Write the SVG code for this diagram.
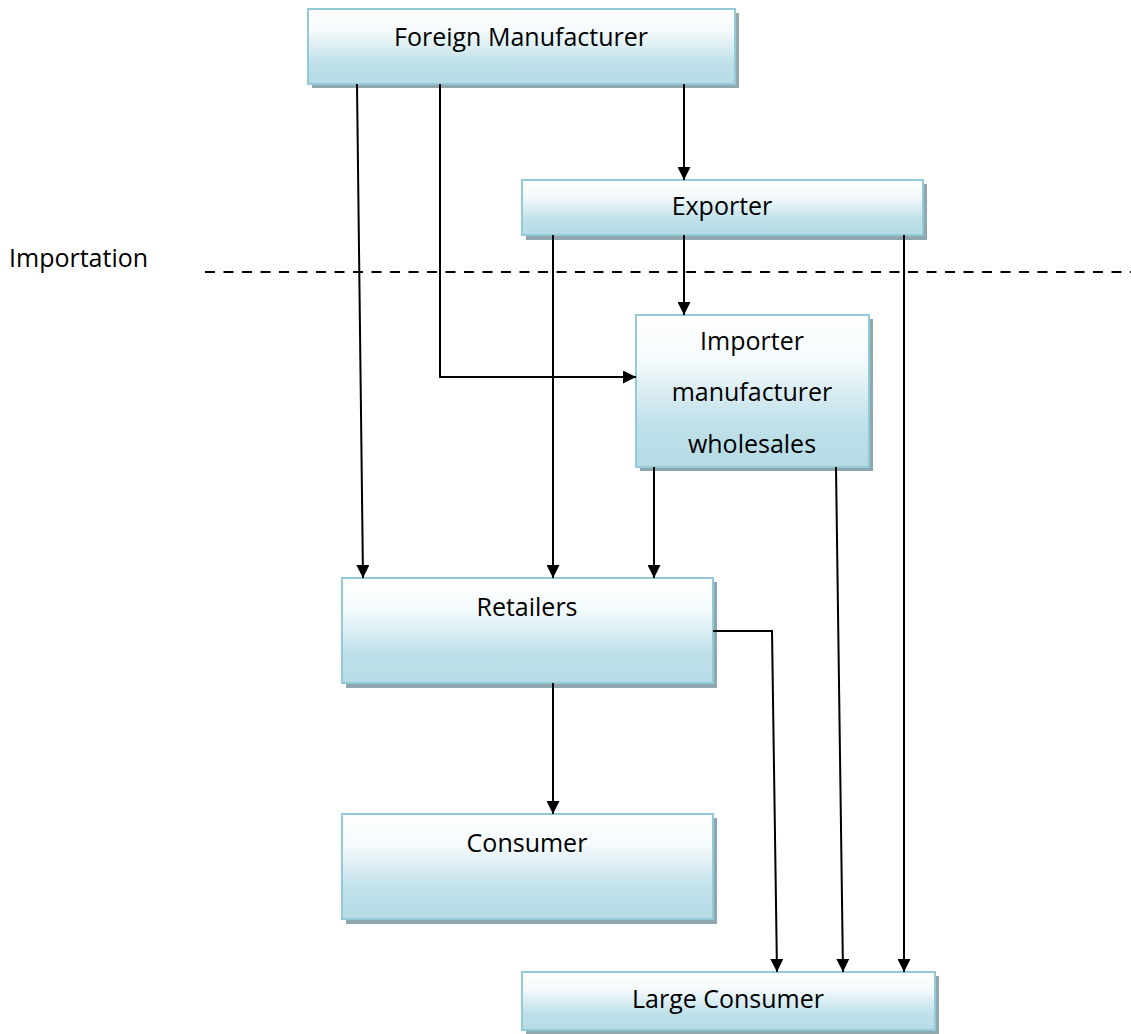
<svg xmlns="http://www.w3.org/2000/svg" width="1131" height="1034" viewBox="0 0 1131 1034">
<defs>
<linearGradient id="g" x1="0" y1="0" x2="0" y2="1">
<stop offset="0" stop-color="#ffffff"/>
<stop offset="0.3" stop-color="#f4fafc"/>
<stop offset="0.72" stop-color="#bfe0e9"/>
<stop offset="1" stop-color="#b6dbe5"/>
</linearGradient>
<marker id="arr" viewBox="0 0 10 10" refX="10" refY="5" markerWidth="6.5" markerHeight="6.5" orient="auto" markerUnits="strokeWidth">
<path d="M0,0 L10,5 L0,10 z" fill="#000"/>
</marker>
<style>
.shadow{fill:#8fa7ae}
.box{fill:url(#g);stroke:#92cad8;stroke-width:2}
.t{font-family:"Open Sans","DejaVu Sans",sans-serif;font-size:25px;fill:#000;text-anchor:middle}
.c{fill:none;stroke:#000;stroke-width:2;marker-end:url(#arr)}
</style>
</defs>
<rect width="1131" height="1034" fill="#fff"/>
<text x="9" y="267" font-family="Open Sans, DejaVu Sans, sans-serif" font-size="25">Importation</text>
<line x1="205" y1="272" x2="1131" y2="272" stroke="#000" stroke-width="2" stroke-dasharray="10,8.5"/>

<g id="foreign-manufacturer">
<rect class="shadow" x="312" y="13" width="427" height="75"/>
<rect class="box" x="308" y="9" width="427" height="75"/>
<text class="t" x="521" y="46">Foreign Manufacturer</text>
</g>
<g id="exporter">
<rect class="shadow" x="526" y="184" width="401" height="56"/>
<rect class="box" x="522" y="180" width="401" height="55"/>
<text class="t" x="722" y="215">Exporter</text>
</g>
<g id="importer">
<rect class="shadow" x="640" y="319" width="233" height="152"/>
<rect class="box" x="636" y="315" width="233" height="152"/>
<text class="t" x="752" y="350">Importer</text>
<text class="t" x="752" y="401">manufacturer</text>
<text class="t" x="752" y="453">wholesales</text>
</g>
<g id="retailers">
<rect class="shadow" x="346" y="582" width="371" height="106"/>
<rect class="box" x="342" y="578" width="371" height="105"/>
<text class="t" x="527" y="616">Retailers</text>
</g>
<g id="consumer">
<rect class="shadow" x="346" y="818" width="371" height="106"/>
<rect class="box" x="342" y="814" width="371" height="105"/>
<text class="t" x="527" y="852">Consumer</text>
</g>
<g id="large-consumer">
<rect class="shadow" x="526" y="976" width="413" height="58"/>
<rect class="box" x="522" y="972" width="413" height="58"/>
<text class="t" x="728" y="1008">Large Consumer</text>
</g>

<g id="connectors">
<path class="c" d="M357,84 L363,578"/>
<path class="c" d="M440,84 L440,377 L636,377"/>
<path class="c" d="M684,84 L684,180"/>
<path class="c" d="M553,235 L553,578"/>
<path class="c" d="M684,235 L684,315"/>
<path class="c" d="M904,235 L904,972"/>
<path class="c" d="M654,467 L654,578"/>
<path class="c" d="M836,467 L843,972"/>
<path class="c" d="M713,631 L772,631 L777,972"/>
<path class="c" d="M553,683 L553,814"/>
</g>
</svg>
